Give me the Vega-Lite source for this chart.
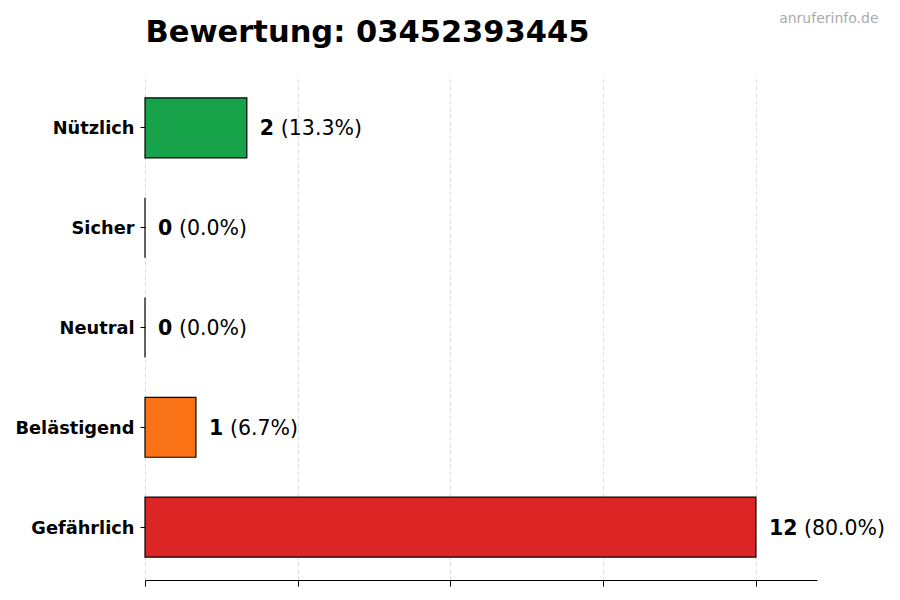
{
  "$schema": "https://vega.github.io/schema/vega-lite/v6.json",
  "autosize": "none",
  "width": 672,
  "height": 505,
  "padding": {"top": 75, "left": 145, "right": 83, "bottom": 20},
  "background": "white",
  "config": {
    "view": {"stroke": null},
    "font": "DejaVu Sans"
  },
  "data": {
    "values": [
      {"kategorie": "Nützlich", "anzahl": 2, "prozent": "(13.3%)"},
      {"kategorie": "Sicher", "anzahl": 0, "prozent": "(0.0%)"},
      {"kategorie": "Neutral", "anzahl": 0, "prozent": "(0.0%)"},
      {"kategorie": "Belästigend", "anzahl": 1, "prozent": "(6.7%)"},
      {"kategorie": "Gefährlich", "anzahl": 12, "prozent": "(80.0%)"}
    ]
  },
  "encoding": {
    "y": {
      "field": "kategorie",
      "type": "nominal",
      "sort": null,
      "scale": {"paddingInner": 0.4, "paddingOuter": 0.23},
      "axis": {
        "title": null,
        "domain": false,
        "ticks": true,
        "tickColor": "#000000",
        "tickSize": 5,
        "labelFont": "DejaVu Sans",
        "labelFontSize": 17.8,
        "labelFontWeight": "bold",
        "labelColor": "#000000",
        "labelPadding": 6,
        "labelOffset": 1.5
      }
    }
  },
  "layer": [
    {
      "mark": {"type": "bar", "stroke": "#000000", "strokeWidth": 1.2},
      "encoding": {
        "x": {
          "field": "anzahl",
          "type": "quantitative",
          "scale": {"domain": [0, 13.2], "nice": false},
          "axis": {
            "title": null,
            "values": [0, 3, 6, 9, 12],
            "labels": false,
            "domain": true,
            "domainColor": "#000000",
            "ticks": true,
            "tickColor": "#000000",
            "tickSize": 6,
            "grid": true,
            "gridColor": "#d4d4d4",
            "gridDash": [4, 3],
            "gridWidth": 0.8
          }
        },
        "color": {
          "field": "kategorie",
          "type": "nominal",
          "scale": {
            "domain": ["Nützlich", "Sicher", "Neutral", "Belästigend", "Gefährlich"],
            "range": ["#16a34a", "#2563eb", "#9ca3af", "#f97316", "#dc2626"]
          },
          "legend": null
        }
      }
    },
    {
      "mark": {"type": "text", "align": "left", "baseline": "middle", "dx": 13, "dy": 1.5, "fontSize": 20.5, "fontWeight": "bold", "color": "#000000"},
      "encoding": {
        "x": {"field": "anzahl", "type": "quantitative", "axis": null},
        "text": {"field": "anzahl", "type": "quantitative"}
      }
    },
    {
      "transform": [{"filter": "datum.anzahl < 10"}],
      "mark": {"type": "text", "align": "left", "baseline": "middle", "dx": 34, "dy": 1.5, "fontSize": 20.5, "color": "#000000"},
      "encoding": {
        "x": {
          "field": "anzahl",
          "type": "quantitative",
          "axis": {
            "orient": "top",
            "title": "Bewertung: 03452393445",
            "titleFont": "DejaVu Sans",
            "titleFontSize": 30.5,
            "titleFontWeight": "bold",
            "titleColor": "#000000",
            "titleAlign": "left",
            "titleAngle": 0,
            "titleBaseline": "alphabetic",
            "titleX": 0,
            "titleY": -34,
            "labels": false,
            "ticks": false,
            "domain": false,
            "grid": false
          }
        },
        "text": {"field": "prozent", "type": "nominal"}
      }
    },
    {
      "transform": [{"filter": "datum.anzahl >= 10"}],
      "mark": {"type": "text", "align": "left", "baseline": "middle", "dx": 48, "dy": 1.5, "fontSize": 20.5, "color": "#000000"},
      "encoding": {
        "x": {
          "field": "anzahl",
          "type": "quantitative",
          "axis": {
            "orient": "top",
            "title": "anruferinfo.de",
            "titleFont": "DejaVu Sans",
            "titleFontSize": 14,
            "titleFontWeight": "normal",
            "titleColor": "#aaaaaa",
            "titleAlign": "right",
            "titleAngle": 0,
            "titleBaseline": "alphabetic",
            "titleX": 733,
            "titleY": -53,
            "labels": false,
            "ticks": false,
            "domain": false,
            "grid": false
          }
        },
        "text": {"field": "prozent", "type": "nominal"}
      }
    }
  ],
  "resolve": {"axis": {"x": "independent"}}
}
